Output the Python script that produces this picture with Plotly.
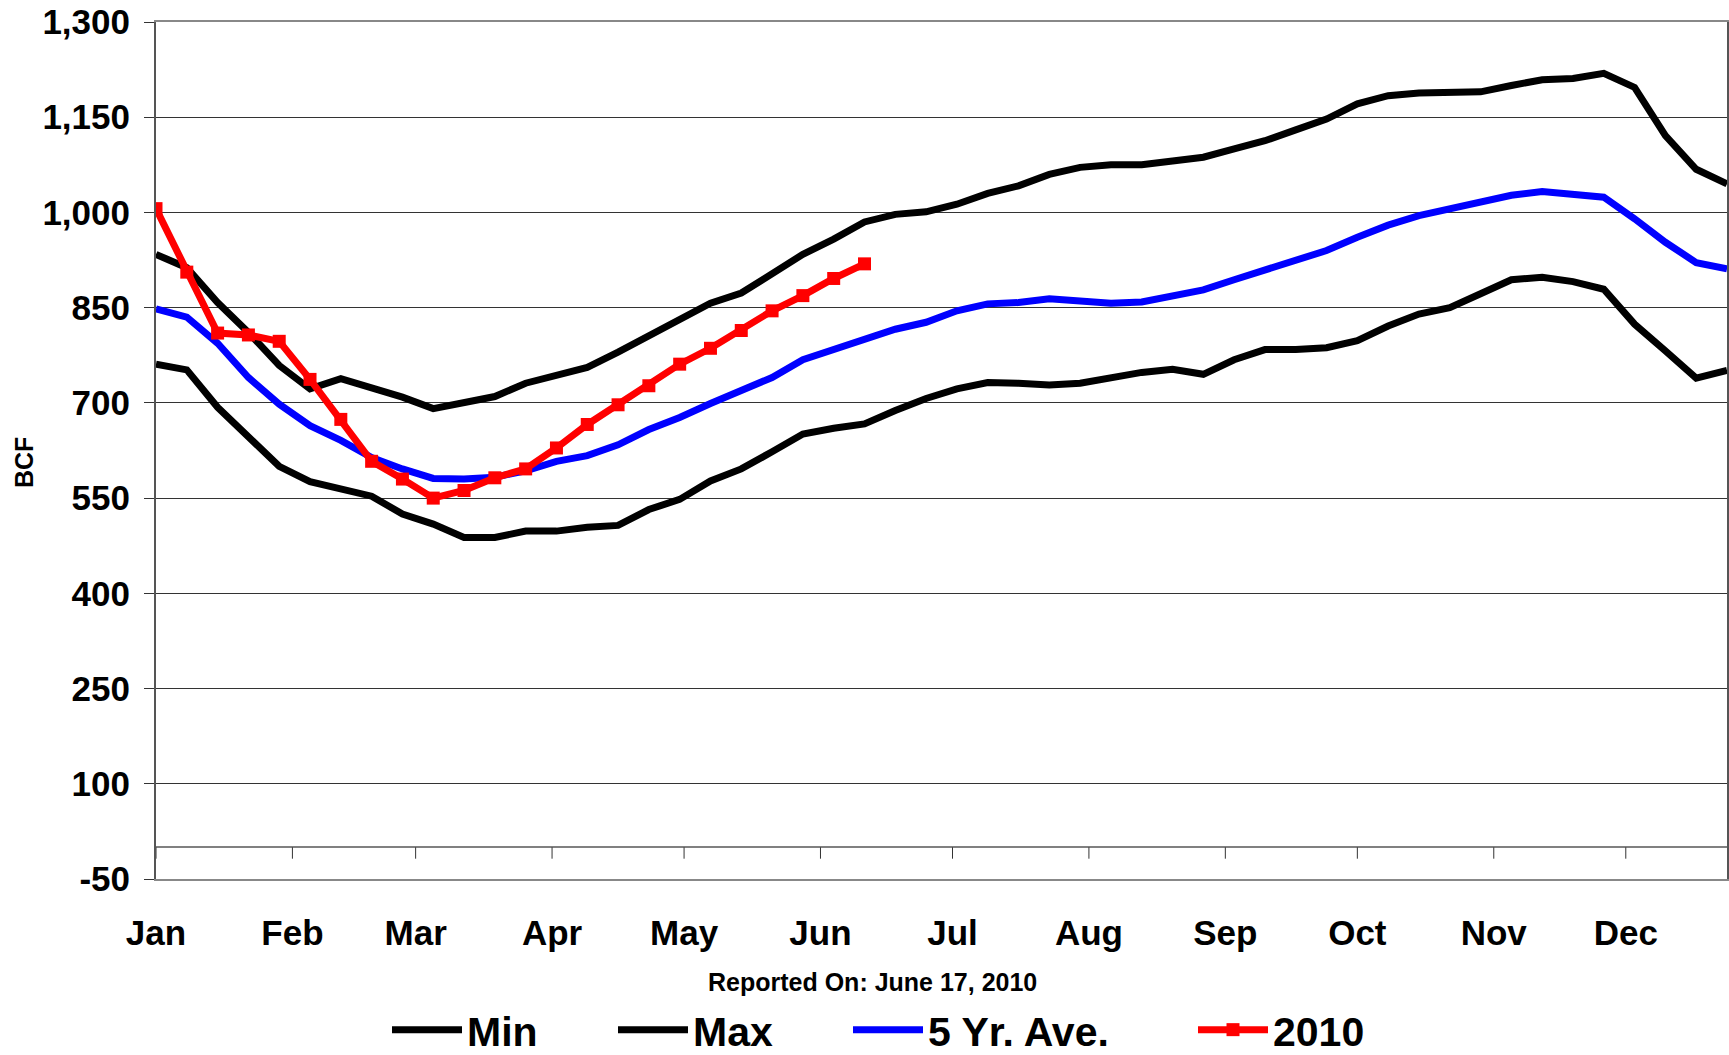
import plotly.graph_objects as go

# ---- data (weekly, week index 0 = first week of January) ----
weeks = list(range(52))
weeks_2010 = list(range(24))

min_vals = [761, 752, 693, 648, 600, 576, 565, 553, 525, 509, 488, 488, 498, 498, 504,
            507, 532, 548, 577, 596, 623, 651, 660, 667, 688, 707, 722, 732, 731, 728,
            731, 739, 748, 753, 745, 768, 784, 784, 787, 798, 821, 840, 850, 872, 894,
            898, 891, 879, 824, 782, 739, 751]

max_vals = [934, 913, 858, 811, 759, 722, 738, 723, 709, 691, 701, 710, 731, 744, 756,
            780, 806, 833, 857, 873, 902, 934, 958, 985, 997, 1001, 1013, 1030, 1042, 1060,
            1071, 1075, 1075, 1080, 1087, 1100, 1113, 1130, 1147, 1171, 1184, 1188, 1189, 1190, 1200,
            1209, 1211, 1219, 1197, 1121, 1068, 1045]

avg_vals = [848, 835, 794, 740, 698, 664, 641, 614, 596, 581, 580, 583, 593, 608, 617,
            634, 658, 677, 699, 719, 740, 768, 784, 801, 816, 827, 845, 856, 858, 864,
            861, 857, 859, 869, 878, 894, 910, 925, 940, 961, 980, 995, 1006, 1016, 1027,
            1033, 1029, 1024, 990, 953, 921, 911]

vals_2010 = [1006, 906, 810, 807, 797, 737, 674, 608, 580, 550, 562, 582, 596, 629, 666,
             697, 727, 761, 786, 814, 845, 869, 896, 919]

months = ["Jan", "Feb", "Mar", "Apr", "May", "Jun", "Jul", "Aug", "Sep", "Oct", "Nov", "Dec"]
month_start_day = [0, 31, 59, 90, 120, 151, 181, 212, 243, 273, 304, 334]
month_pos = [d / 7 for d in month_start_day]

y_ticks = [-50, 100, 250, 400, 550, 700, 850, 1000, 1150, 1300]
y_ticktext = ["-50", "100", "250", "400", "550", "700", "850", "1,000", "1,150", "1,300"]

FONT = "Liberation Sans, Arial, sans-serif"
W, H = 1729, 1055

fig = go.Figure()

series = [
    ("Min", weeks, min_vals, "#000000", "legend"),
    ("Max", weeks, max_vals, "#000000", "legend2"),
    ("5 Yr. Ave.", weeks, avg_vals, "#0000FF", "legend3"),
]
for name, xs, ys, col, lg in series:
    fig.add_trace(go.Scatter(x=xs, y=ys, name=name, mode="lines",
                             line=dict(color=col, width=7), legend=lg))

fig.add_trace(go.Scatter(x=weeks_2010, y=vals_2010, name="2010", mode="lines+markers",
                         line=dict(color="#FF0000", width=7),
                         marker=dict(symbol="square", size=13, color="#FF0000"),
                         legend="legend4"))

# month tick marks hanging below the zero line
for m in month_pos:
    fig.add_shape(type="line", xref="x", yref="y", x0=m, x1=m, y0=0, y1=-18,
                  line=dict(color="#333333", width=1))

legend_common = dict(xref="container", yref="container", xanchor="left", yanchor="middle",
                     orientation="h", bgcolor="rgba(0,0,0,0)", borderwidth=0,
                     font=dict(family=FONT, size=41, color="#000000", weight="bold"),
                     itemwidth=70)
leg_y = 1 - 1030 / H
legend_x_px = {"legend": 387, "legend2": 613, "legend3": 848, "legend4": 1193}
layout_legends = {k: dict(legend_common, x=v / W, y=leg_y) for k, v in legend_x_px.items()}

fig.update_layout(
    width=W, height=H,
    margin=dict(l=156, r=2, t=22, b=176, autoexpand=False),
    paper_bgcolor="white", plot_bgcolor="white",
    showlegend=True,
    **layout_legends,
    xaxis=dict(range=[0, 51], showgrid=False, zeroline=False, automargin=False,
               showline=True, linecolor="#888888", linewidth=2, mirror=True,
               tickvals=month_pos, ticktext=months, ticks="",
               ticklabelstandoff=22,
               tickfont=dict(family=FONT, size=35, color="#000000", weight="bold")),
    yaxis=dict(range=[-50, 1300], tickvals=y_ticks, ticktext=y_ticktext, automargin=False,
               showgrid=True, gridcolor="#333333", gridwidth=1,
               zeroline=True, zerolinecolor="#808080", zerolinewidth=2,
               showline=True, linecolor="#555555", linewidth=2, mirror=True,
               ticks="outside", ticklen=10, tickcolor="#333333",
               ticklabelstandoff=7,
               tickfont=dict(family=FONT, size=35, color="#000000", weight="bold")),
    annotations=[
        dict(text="BCF", xref="paper", yref="paper", x=(24 - 156) / 1571, y=(879 - 463) / 857,
             xanchor="center", yanchor="middle", textangle=-90, showarrow=False,
             font=dict(family=FONT, size=25, color="#000000", weight="bold")),
        dict(text="Reported On: June 17, 2010", xref="paper", yref="paper",
             x=(872 - 156) / 1571, y=(879 - 982) / 857, xanchor="center", yanchor="middle",
             showarrow=False,
             font=dict(family=FONT, size=25, color="#000000", weight="bold")),
    ],
)

fig.write_html("out.html",
               config={"displayModeBar": False},
               post_script="document.body.style.margin='0';document.body.style.overflow='hidden';")
